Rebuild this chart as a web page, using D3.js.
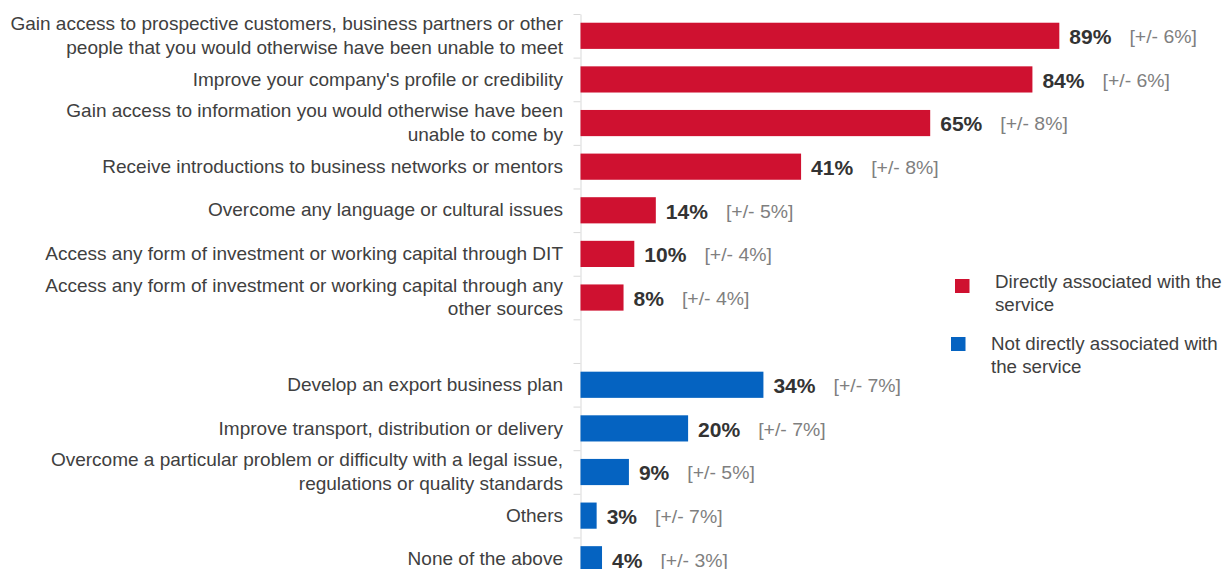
<!DOCTYPE html>
<html>
<head>
<meta charset="utf-8">
<script src="https://cdn.jsdelivr.net/npm/d3@7"></script>
<style>
  html, body { margin: 0; padding: 0; background: #fff; }
  svg { display: block; font-family: "Liberation Sans", Arial, sans-serif; }
</style>
</head>
<body>
<svg id="chart" width="1226" height="569"></svg>
<script>
// Outcomes reported by businesses, split by whether they are tied to the service
const directCategories = [
  "Gain access to prospective customers, business partners or other\npeople that you would otherwise have been unable to meet",
  "Improve your company's profile or credibility",
  "Gain access to information you would otherwise have been\nunable to come by",
  "Receive introductions to business networks or mentors",
  "Overcome any language or cultural issues",
  "Access any form of investment or working capital through DIT",
  "Access any form of investment or working capital through any\nother sources"
];
const directValues = [89, 84, 65, 41, 14, 10, 8];
const directMargins = [6, 6, 8, 8, 5, 4, 4];

const indirectCategories = [
  "Develop an export business plan",
  "Improve transport, distribution or delivery",
  "Overcome a particular problem or difficulty with a legal issue,\nregulations or quality standards",
  "Others",
  "None of the above"
];
const indirectValues = [34, 20, 9, 3, 4];
const indirectMargins = [7, 7, 5, 7, 3];

const legendLabels = [
  "Directly associated with the\nservice",
  "Not directly associated with\nthe service"
];
const seriesColors = ["#CF1130", "#0563C1"];

const rows = [
  ...directCategories.map((c, i) => ({ key: "d" + i, label: c, value: directValues[i], margin: directMargins[i], group: 0 })),
  { key: "gap", label: "", value: null, group: -1 },
  ...indirectCategories.map((c, i) => ({ key: "n" + i, label: c, value: indirectValues[i], margin: indirectMargins[i], group: 1 }))
];

const svg = d3.select("#chart");
const axisX = 580.5, plotTop = 14, slot = 43.62;
const stretch = 1.08; // text is set slightly wide

const x = d3.scaleLinear().domain([0, 100]).range([axisX, axisX + 538]);
const y = d3.scaleBand()
  .domain(rows.map(r => r.key))
  .range([plotTop, plotTop + slot * rows.length])
  .paddingInner(0.4)
  .paddingOuter(0.2);

// Draws a text anchored at (tx, ty) and widened horizontally
function wideText(g, tx, ty, str, opts) {
  const t = g.append("text")
    .attr("transform", `translate(${tx},${ty}) scale(${opts.sx || stretch},1)`)
    .attr("dy", "0.35em")
    .attr("font-size", opts.size)
    .attr("fill", opts.fill)
    .attr("text-anchor", opts.anchor || "start")
    .text(str);
  if (opts.weight) t.attr("font-weight", opts.weight);
  return t;
}

// Category axis: light rule with ticks between the rows
const yEdges = d3.scaleLinear().domain([0, rows.length]).range([plotTop, plotTop + slot * rows.length]);
const axis = svg.append("g")
  .attr("transform", `translate(${axisX},0)`)
  .call(d3.axisLeft(yEdges).tickValues(d3.range(0, rows.length + 1)).tickFormat("").tickSize(7).tickSizeOuter(0));
axis.selectAll("path, line").attr("stroke", "#D9D9D9").attr("stroke-width", 1);

const bars = rows.filter(r => r.value !== null);

svg.append("g").selectAll("rect")
  .data(bars)
  .join("rect")
  .attr("x", x(0))
  .attr("y", d => y(d.key))
  .attr("width", d => x(d.value) - x(0))
  .attr("height", y.bandwidth())
  .attr("fill", d => seriesColors[d.group]);

// Category labels (right-aligned, wrapped on "\n")
const labelG = svg.append("g");
bars.forEach(d => {
  const lines = d.label.split("\n");
  const cy = y(d.key) + y.bandwidth() / 2;
  const lh = 23.5;
  lines.forEach((ln, i) => {
    wideText(labelG, 563, cy + (i - (lines.length - 1) / 2) * lh, ln,
      { size: 17.5, fill: "#404040", anchor: "end", sx: 1.087 });
  });
});

// Value labels and confidence intervals
const valG = svg.append("g");
bars.forEach(d => {
  const cy = y(d.key) + y.bandwidth() / 2;
  const vx = x(d.value) + 10;
  const v = wideText(valG, vx, cy + 1.5, d.value + "%",
    { size: 19.5, fill: "#333333", weight: "bold" });
  const w = v.node().getComputedTextLength() * stretch;
  wideText(valG, vx + w + 18, cy + 1, `[+/- ${d.margin}%]`,
    { size: 18, fill: "#7F7F7F" });
});

// Legend
const legend = svg.append("g");
const legendPos = [{ sx: 955, sy: 279, tx: 995, ty: 281.5 }, { sx: 951, sy: 337, tx: 991, ty: 343.5 }];
legendLabels.forEach((lbl, i) => {
  const p = legendPos[i];
  legend.append("rect")
    .attr("x", p.sx).attr("y", p.sy)
    .attr("width", 14.5).attr("height", 14)
    .attr("fill", seriesColors[i]);
  lbl.split("\n").forEach((ln, j) => {
    wideText(legend, p.tx, p.ty + j * 23, ln,
      { size: 17.5, fill: "#404040", sx: 1.07 });
  });
});
</script>
</body>
</html>
